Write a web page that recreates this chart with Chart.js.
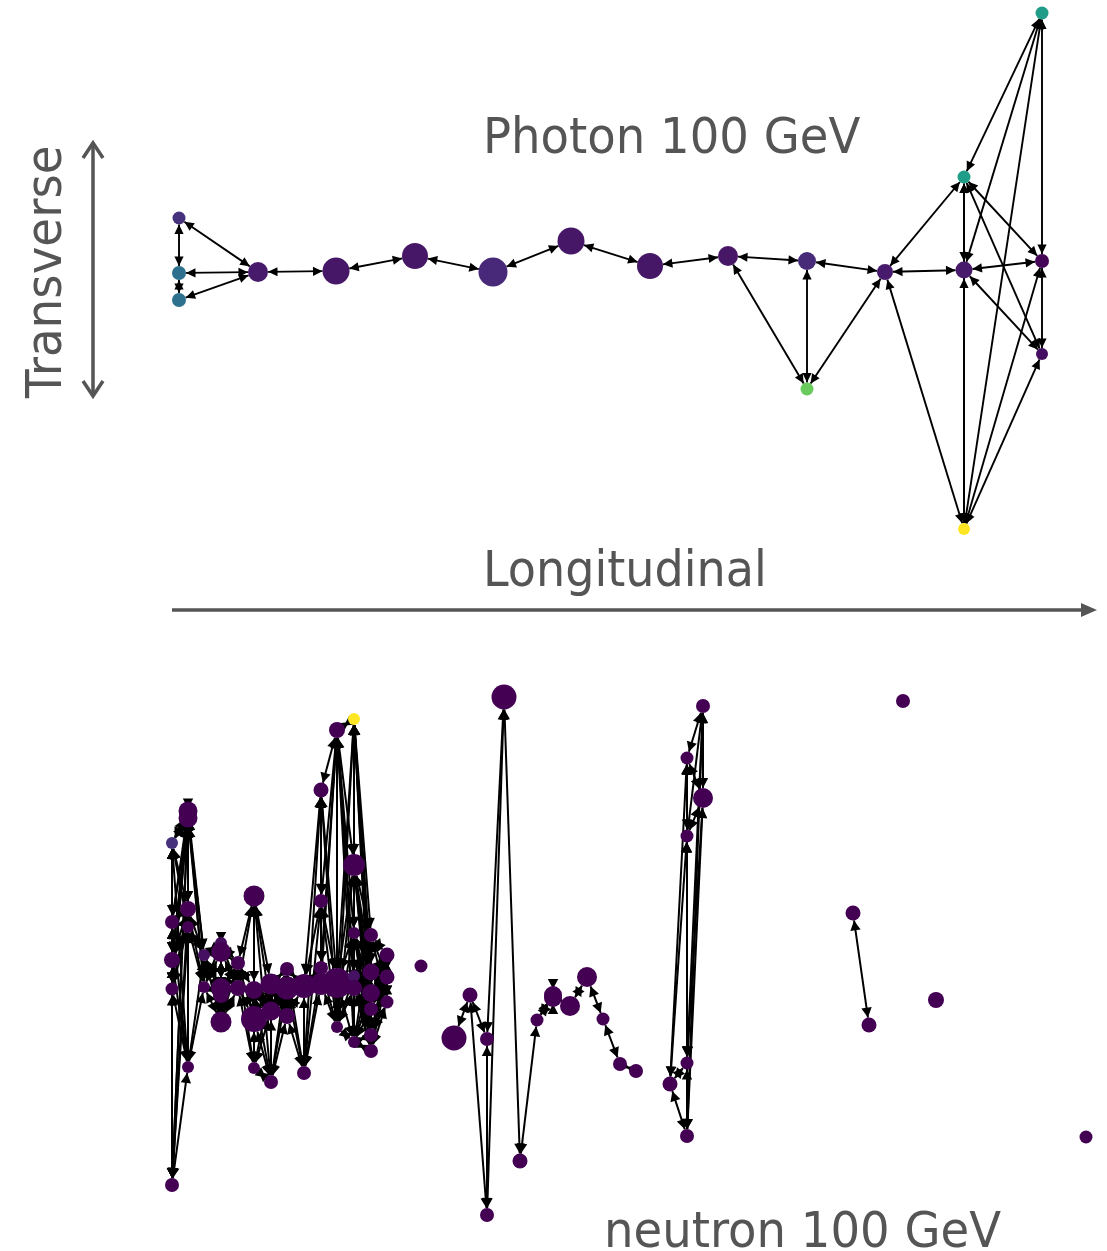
<!DOCTYPE html>
<html><head><meta charset="utf-8">
<style>html,body{margin:0;padding:0;background:#fff}canvas{display:block;filter:blur(0.45px)}</style>
<script src="https://cdn.jsdelivr.net/npm/chart.js@4"></script>
</head><body><canvas id="c" width="1107" height="1251"></canvas>
<script>
// Photon graph
const photonX=[179,179,179,258,336,415,493,571,650,728,807,807,885,964,964,1042,1042,1042,964];
const photonY=[218,273,300,272,271,256,272,241,266,256,261,389,272,270,177,13,261,354,529];
const photonSize=[6.5,7,7,10,13.5,13,14.5,13.5,13,10,9,6.5,8,8.5,6.5,6.5,7,6,6];
const photonValue=[.14,.37,.37,.07,.06,.06,.11,.06,.06,.06,.12,.77,.07,.07,.55,.55,.01,.04,1];
const photonEdges=[[0,[1,3]],[1,[2,3]],[2,[3]],[3,[4]],[4,[5]],[5,[6]],[6,[7]],[7,[8]],[8,[9]],[9,[10,11]],[10,[11,12]],[11,[12]],
 [12,[13,14,18]],[13,[14,15,16,17,18]],[14,[15,16,17,18]],[15,[16,18]],[16,[17,18]],[17,[18]]];
// Neutron graph
const neutronX=[172,172,172,172,172,188,188,188,188,188,204,204,221,221,221,221,221,238,238,254,254,254,254,271,271,271,287,287,287,304,304,321,321,321,321,337,337,337,354,354,354,354,354,354,371,371,371,371,371,371,387,387,387,
 421,504,470,454,487,487,520,537,553,553,570,587,603,620,636,670,687,687,687,687,703,703,903,853,869,936,1086];
const neutronY=[843,922,960,989,1185,811,818,909,927,1067,955,987,943,952,988,995,1022,963,988,896,990,1019,1068,984,1011,1082,969,988,1016,986,1073,790,901,968,984,730,983,1027,719,865,933,976,988,1042,935,972,993,1009,1035,1051,955,977,1002,
 966,697,995,1038,1039,1215,1161,1020,995,998,1006,977,1019,1064,1071,1084,1063,1136,836,758,798,706,701,913,1025,1000,1137];
const neutronSize=[6,7,8,6.5,7,9.5,9.5,8,6,6,6,6,6,10,10,8,10.5,7,8,10.5,9,13,6,10.5,9.5,7,7,11.5,8,12,7,7.5,7,7,11,8,15,6,6,11,6,6,8,6,7,8.5,9,7,7,7,7.5,7.5,6.5,
 6.5,12.5,7.5,12.5,7,7,7.5,6.5,9,9,10,10,6.5,7,7,7.5,6.5,7,6.5,6.5,10,7,7,7.5,7.5,8,6.5];
const neutronValue=[.14,0,0,0,0,0,0,0,0,0,.04,0,.03,0,0,0,0,0,0,0,0,0,0,0,0,0,0,0,0,0,0,0,0,0,0,0,0,0,1,0,0,.05,0,0,0,0,0,0,0,0,0,0,0,
 0,0,0,0,0,0,0,0,0,0,0,0,0,0,0,0,0,0,0,0,0,0,0,0,0,0,0];
const neutronEdges=[[0,[1,2,3,4,5,6,7,8,9]],[1,[2,3,4,5,6,7,8,9]],[2,[3,4,5,6,7,8,9]],[3,[4,5,6,7,8,9]],[4,[5,6,7,8,9]],
 [5,[6,7,8,9,10,11]],[6,[7,8,9,10,11]],[7,[8,9,10,11]],[8,[9,10,11]],[9,[10,11]],
 [10,[11,12,13,14,15,16]],[11,[12,13,14,15,16]],[12,[13,14,15,16,17,18]],[13,[14,15,16,17,18]],[14,[15,16,17,18]],[15,[16,17,18]],[16,[17,18]],
 [17,[18,19,20,21,22]],[18,[19,20,21,22]],[19,[20,21,22,23,24,25]],[20,[21,22,23,24,25]],[21,[22,23,24,25]],[22,[23,24,25]],
 [23,[24,25,26,27,28]],[24,[25,26,27,28]],[25,[26,27,28]],[26,[27,28,29,30]],[27,[28,29,30]],[28,[29,30]],
 [29,[30,31,32,33,34]],[30,[31,32,33,34]],[31,[32,33,34,35,36,37]],[32,[33,34,35,36,37]],[33,[34,35,36,37]],[34,[35,36,37]],
 [35,[36,37,38,39,40,41,42,43]],[36,[37,38,39,40,41,42,43]],[37,[38,39,40,41,42,43]],
 [38,[39,40,41,42,43,44,45,46,47,48,49]],[39,[40,41,42,43,44,45,46,47,48,49]],[40,[41,42,43,44,45,46,47,48,49]],[41,[42,43,44,45,46,47,48,49]],[42,[43,44,45,46,47,48,49]],[43,[44,45,46,47,48,49]],
 [44,[45,46,47,48,49,50,51,52]],[45,[46,47,48,49,50,51,52]],[46,[47,48,49,50,51,52]],[47,[48,49,50,51,52]],[48,[49,50,51,52]],[49,[50,51,52]],[50,[51,52]],[51,[52]],
 [54,[58,59,57]],[55,[56,57,58]],[57,[58]],[59,[60]],[60,[61,62]],[61,[62,63]],[62,[63]],[63,[64]],[64,[65]],[65,[66]],[66,[67]],
 [68,[69,70,71,72]],[69,[70,71,72,73,74]],[70,[71,72,73,74]],[71,[72,73,74]],[72,[73,74]],[73,[74]],[76,[77]]];
const titles=["Photon 100 GeV","Longitudinal","neutron 100 GeV","Transverse"];

const viridis=[[68,1,84],[72,40,120],[62,74,137],[49,104,142],[38,130,142],[31,158,137],[53,183,121],[109,205,89],[180,222,44],[253,231,37]];
function vir(v){const t=v*(viridis.length-1),i=Math.min(Math.floor(t),viridis.length-2),f=t-i;
 const c=viridis[i].map((a,k)=>Math.round(a+(viridis[i+1][k]-a)*f));return `rgb(${c})`;}

function head(ctx,tx,ty,ux,uy,len,hw){ctx.beginPath();ctx.moveTo(tx,ty);
 ctx.lineTo(tx-ux*len-uy*hw,ty-uy*len+ux*hw);ctx.lineTo(tx-ux*len+uy*hw,ty-uy*len-ux*hw);ctx.closePath();ctx.fill();}
function drawEdges(ctx,sx,sy,X,Y,R,E,lw,len,hw){
 ctx.strokeStyle='#000';ctx.fillStyle='#000';ctx.lineWidth=lw;
 for(const [a,list] of E)for(const b of list){
  const x0=sx.getPixelForValue(X[a]),y0=sy.getPixelForValue(Y[a]),x1=sx.getPixelForValue(X[b]),y1=sy.getPixelForValue(Y[b]);
  const d=Math.hypot(x1-x0,y1-y0);if(!d)continue;const ux=(x1-x0)/d,uy=(y1-y0)/d;
  const ra=R[a],rb=R[b];
  ctx.beginPath();ctx.moveTo(x0+ux*ra,y0+uy*ra);ctx.lineTo(x1-ux*rb,y1-uy*rb);ctx.stroke();
  head(ctx,x1-ux*rb,y1-uy*rb,ux,uy,len,hw);head(ctx,x0+ux*ra,y0+uy*ra,-ux,-uy,len,hw);
 }}
const graphEdges={id:'graphEdges',beforeDatasetsDraw(ch){const {ctx,scales:{x,y}}=ch;ctx.save();
 drawEdges(ctx,x,y,photonX,photonY,photonSize,photonEdges,1.9,9.5,4.6);
 drawEdges(ctx,x,y,neutronX,neutronY,neutronSize,neutronEdges,2,10,5.2);
 ctx.restore();}};
function label(ctx,text,x,y,size,sx,rot){ctx.save();ctx.translate(x,y);if(rot)ctx.rotate(rot);ctx.scale(sx,1);
 ctx.font=size+'px "DejaVu Sans"';ctx.fillText(text,0,0);ctx.restore();}
const notes={id:'notes',afterDatasetsDraw(ch){const {ctx,scales:{x,y}}=ch;ctx.save();
 const G='#555555';ctx.strokeStyle=G;ctx.fillStyle=G;ctx.lineWidth=3.5;ctx.lineCap='butt';
 const px=v=>x.getPixelForValue(v),py=v=>y.getPixelForValue(v);
 ctx.beginPath();ctx.moveTo(px(172),py(610));ctx.lineTo(px(1085),py(610));ctx.stroke();
 ctx.beginPath();ctx.moveTo(px(1097),py(610));ctx.lineTo(px(1081),py(603));ctx.lineTo(px(1081),py(617));ctx.closePath();ctx.fill();
 ctx.beginPath();ctx.moveTo(px(93),py(143));ctx.lineTo(px(93),py(396));ctx.stroke();
 ctx.beginPath();ctx.moveTo(px(83),py(158));ctx.lineTo(px(93),py(143));ctx.lineTo(px(103),py(158));ctx.stroke();
 ctx.beginPath();ctx.moveTo(px(83),py(381));ctx.lineTo(px(93),py(396));ctx.lineTo(px(103),py(381));ctx.stroke();
 ctx.textBaseline='alphabetic';ctx.textAlign='left';
 label(ctx,titles[0],px(483),py(153),49,.95);
 label(ctx,titles[1],px(483),py(586),49,.94);
 label(ctx,titles[2],px(604),py(1247),49,.95);
 label(ctx,titles[3],px(61),py(398),49,.955,-Math.PI/2);
 ctx.restore();}};
const pts=(X,Y)=>X.map((v,i)=>({x:v,y:Y[i]}));
new Chart(document.getElementById('c'),{type:'scatter',
 data:{datasets:[
  {label:'Photon 100 GeV',data:pts(photonX,photonY),pointRadius:photonSize,pointBackgroundColor:photonValue.map(vir),pointBorderWidth:0,clip:false},
  {label:'neutron 100 GeV',data:pts(neutronX,neutronY),pointRadius:neutronSize,pointBackgroundColor:neutronValue.map(vir),pointBorderWidth:0,clip:false}]},
 options:{responsive:false,animation:false,layout:{padding:0,autoPadding:false},events:[],
  plugins:{legend:{display:false},title:{display:false},tooltip:{enabled:false}},
  scales:{x:{type:'linear',min:0,max:1107,display:false},y:{type:'linear',min:0,max:1251,reverse:true,display:false}}},
 plugins:[graphEdges,notes]});
</script></body></html>
